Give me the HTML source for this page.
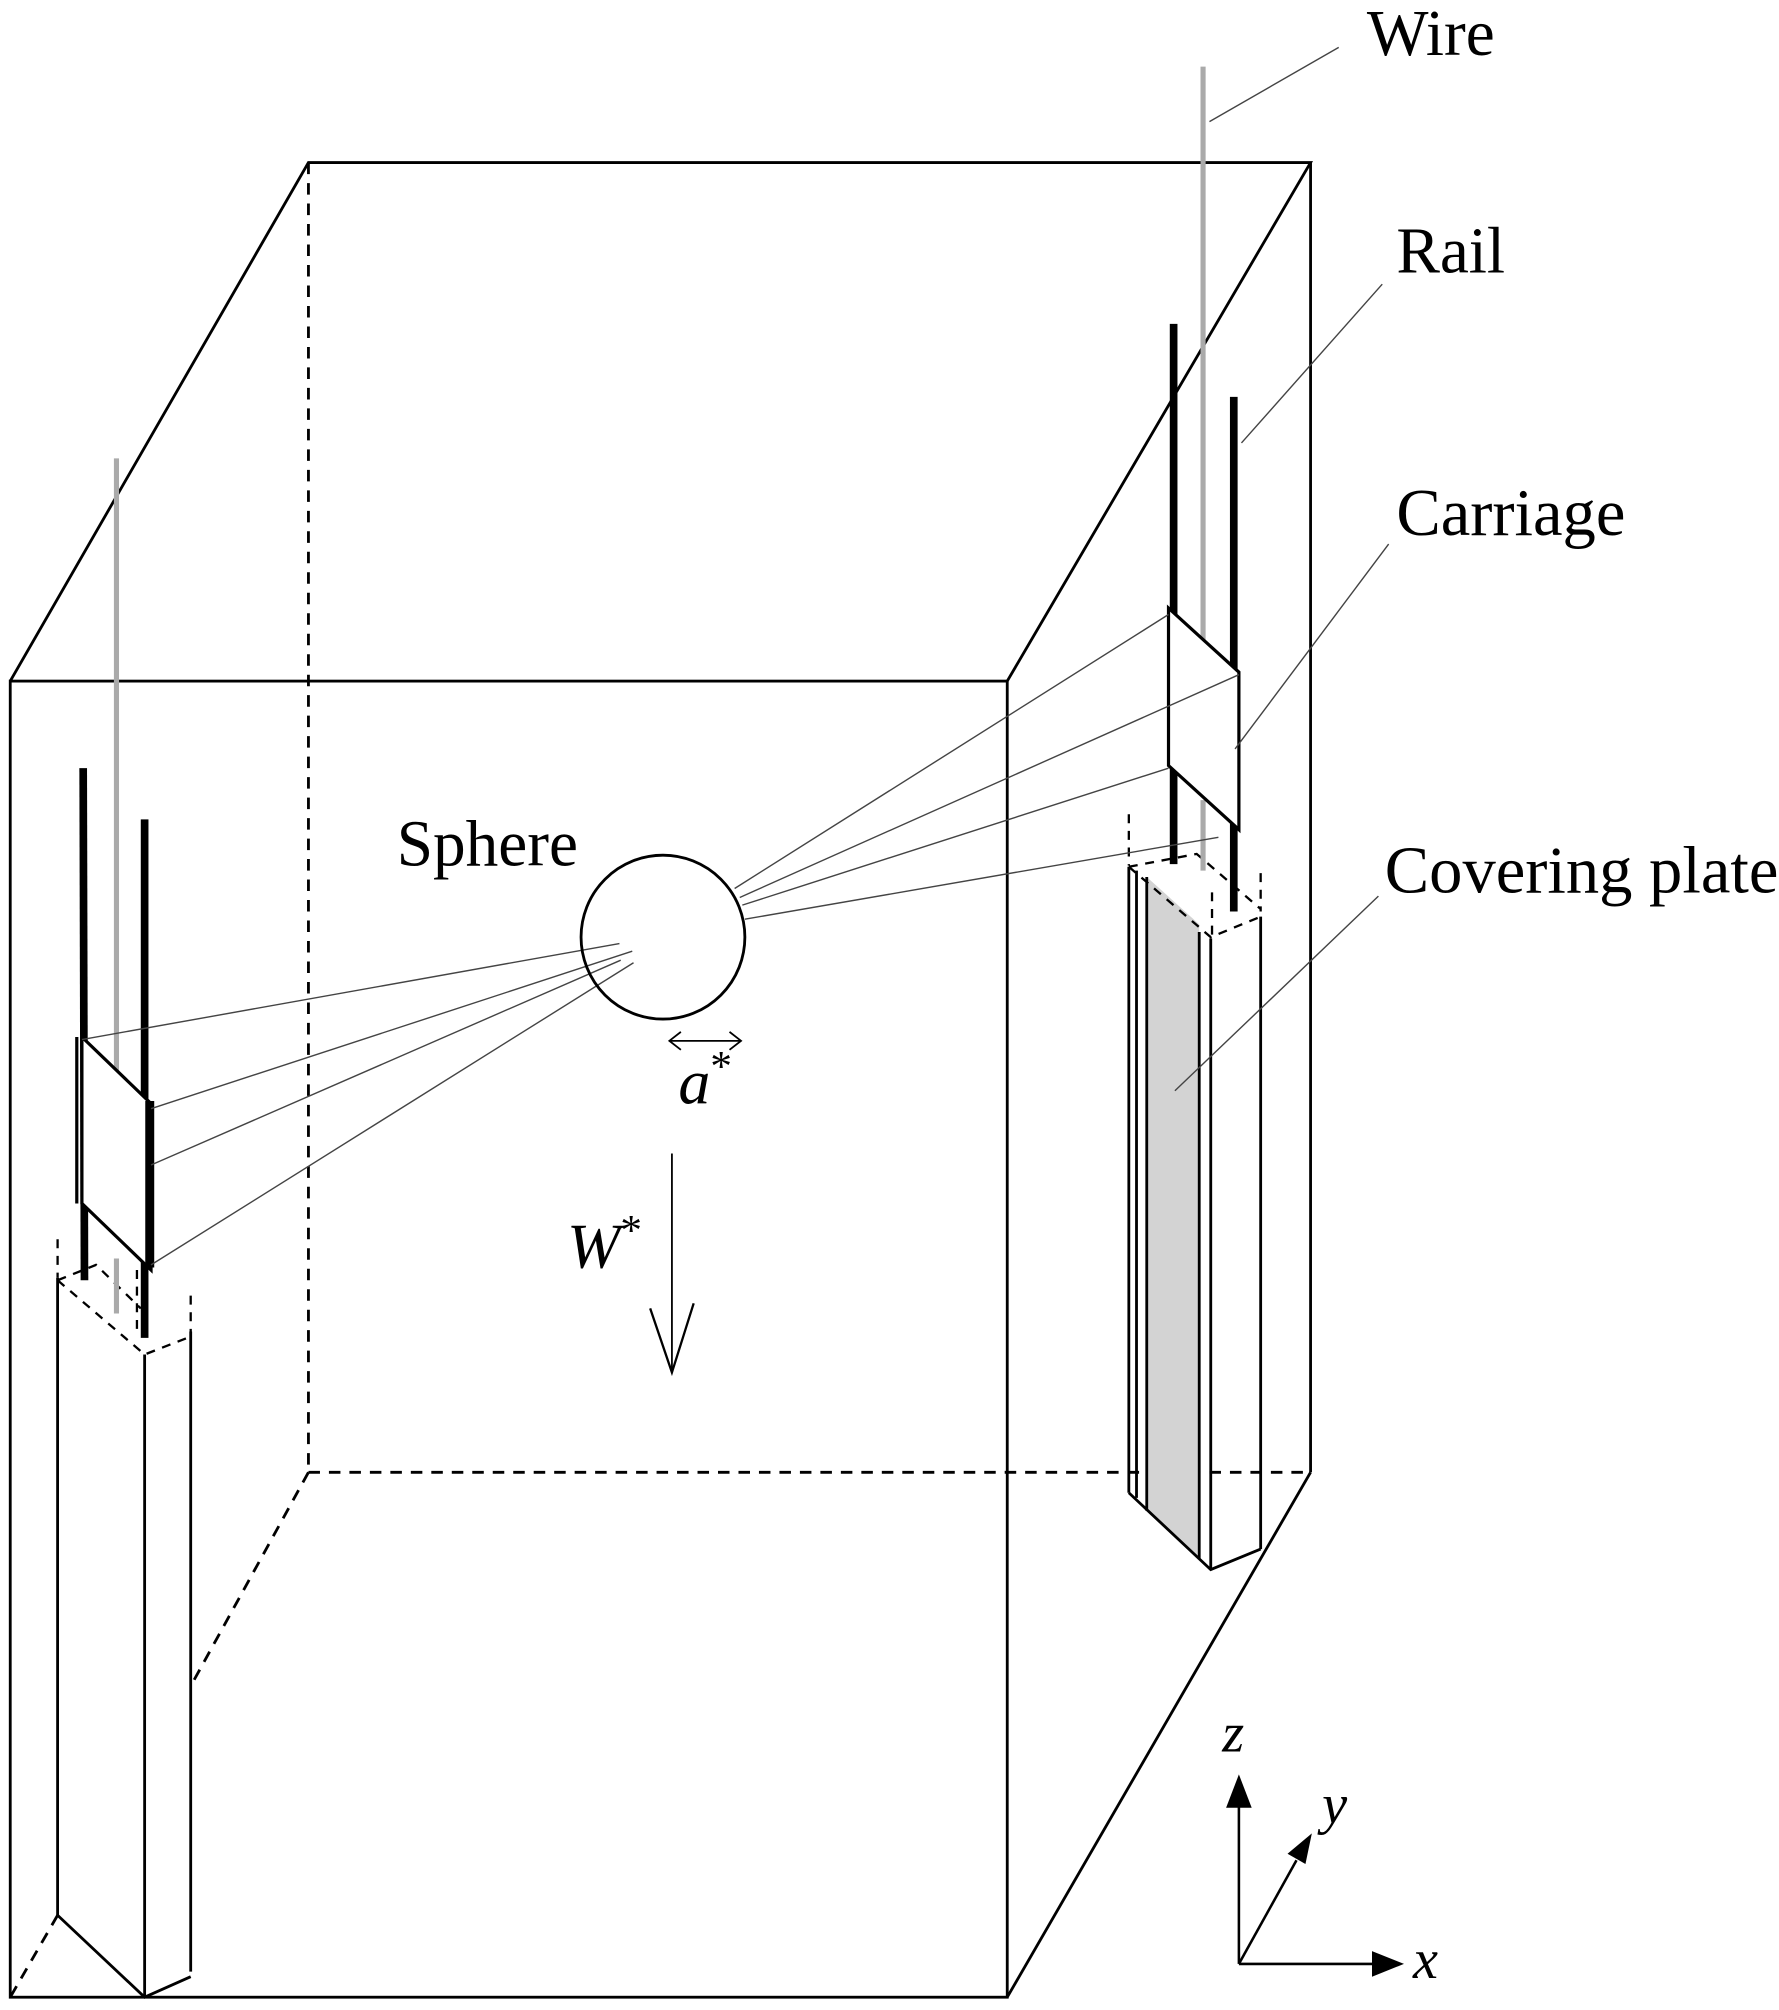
<!DOCTYPE html>
<html><head><meta charset="utf-8"><style>
html,body{margin:0;padding:0;background:#fff}
svg{display:block}
text{font-family:"Liberation Serif",serif;fill:#000}
</style></head><body>
<svg width="1779" height="2010" viewBox="0 0 1390 1570" preserveAspectRatio="none" xmlns="http://www.w3.org/2000/svg">
<g fill="none" stroke="#000" stroke-width="2.2">
<g stroke-dasharray="9,7">
<line x1="241" y1="127" x2="241" y2="1150"/>
<line x1="241" y1="1150" x2="1024" y2="1150"/>
<line x1="241" y1="1150" x2="149" y2="1317"/>
<line x1="45" y1="1496" x2="8" y2="1560"/>
</g>
<rect x="8" y="532" width="779" height="1028"/>
<polyline points="8,532 241,127 1024,127 787,532"/>
<line x1="1024" y1="127" x2="1024" y2="1150"/>
<line x1="1024" y1="1150" x2="787" y2="1560"/>
</g>

<g fill="none" stroke="#000" stroke-width="2.2">
<line x1="45" y1="998" x2="45" y2="1496"/>
<line x1="113" y1="1058" x2="113" y2="1560"/>
<line x1="149" y1="1040" x2="149" y2="1540"/>
<polyline points="45,1496 113,1560 149,1544"/>
<g stroke-dasharray="7,6" stroke-width="1.8">
<polyline points="45,1000 75,988 110,1022"/>
<polyline points="45,1000 113,1058 149,1044"/>
<line x1="45" y1="968" x2="45" y2="998"/>
<line x1="149" y1="1012" x2="149" y2="1042"/>
<line x1="107" y1="992" x2="107" y2="1040"/>
</g>
</g>
<line x1="91" y1="358" x2="91" y2="838" stroke="#aaa" stroke-width="4"/>
<line x1="91" y1="983" x2="91" y2="1026" stroke="#aaa" stroke-width="4"/>
<line x1="65" y1="600" x2="66" y2="1000" stroke="#000" stroke-width="6"/>
<line x1="113" y1="640" x2="113" y2="1045" stroke="#000" stroke-width="6"/>
<polygon points="64,810 118,862 118,992 64,940" fill="#fff" stroke="#000" stroke-width="2.5"/>
<line x1="60" y1="810" x2="60" y2="940" stroke="#000" stroke-width="2.5"/>
<line x1="117" y1="860" x2="117" y2="990" stroke="#000" stroke-width="7"/>

<polygon points="896,685 937,722 937,1218 896,1180" fill="#d3d3d3"/>
<g fill="none" stroke="#000" stroke-width="2.2">
<line x1="882" y1="677" x2="882" y2="1166"/>
<line x1="888" y1="680" x2="888" y2="1170"/>
<line x1="896" y1="685" x2="896" y2="1180"/>
<line x1="937" y1="728" x2="937" y2="1218"/>
<line x1="946" y1="733" x2="946" y2="1226"/>
<line x1="985" y1="716" x2="985" y2="1210"/>
<polyline points="882,1166 946,1226 985,1210"/>
<g stroke-dasharray="7,6" stroke-width="1.8">
<polyline points="882,677 935,667 985,710"/>
<polyline points="882,677 946,732 985,716"/>
<line x1="882" y1="636" x2="882" y2="676"/>
<line x1="985" y1="682" x2="985" y2="712"/>
<line x1="947" y1="697" x2="947" y2="732"/>
</g>
</g>
<line x1="940" y1="52" x2="940" y2="510" stroke="#aaa" stroke-width="4"/>
<line x1="940" y1="625" x2="940" y2="680" stroke="#aaa" stroke-width="4"/>
<line x1="917" y1="253" x2="917" y2="675" stroke="#000" stroke-width="6"/>
<line x1="964" y1="310" x2="964" y2="712" stroke="#000" stroke-width="6"/>
<polygon points="913,475 968,525 968,648 913,598" fill="#fff" stroke="#000" stroke-width="2.5"/>

<g stroke="#444" stroke-width="1.1" fill="none">
<line x1="484" y1="737" x2="64" y2="812"/>
<line x1="494" y1="743" x2="118" y2="866"/>
<line x1="485" y1="750" x2="118" y2="910"/>
<line x1="495" y1="752" x2="118" y2="988"/>
<line x1="574" y1="694" x2="913" y2="480"/>
<line x1="578" y1="701" x2="968" y2="527"/>
<line x1="580" y1="707" x2="913" y2="600"/>
<line x1="582" y1="718" x2="952" y2="654"/>
<line x1="945" y1="95" x2="1046" y2="37"/>
<line x1="970" y1="346" x2="1080" y2="222"/>
<line x1="965" y1="585" x2="1085" y2="425"/>
<line x1="918" y1="852" x2="1077" y2="700"/>
</g>
<circle cx="518" cy="732" r="64" fill="none" stroke="#000" stroke-width="2.2"/>
<g stroke="#000" stroke-width="1.4" fill="none">
<line x1="523" y1="813" x2="579" y2="813"/>
<polyline points="532,806 523,813 532,820"/>
<polyline points="570,806 579,813 570,820"/>
<line x1="525" y1="901" x2="525" y2="1072"/>
<polyline points="508,1022 525,1072 542,1018" stroke-width="1.8"/>
</g>

<g stroke="#000" stroke-width="2">
<line x1="968" y1="1534" x2="968" y2="1410"/>
<line x1="968" y1="1534" x2="1075" y2="1534"/>
<line x1="968" y1="1534" x2="1013" y2="1453"/>
</g>
<polygon points="968,1386 958,1412 978,1412" fill="#000"/>
<polygon points="1097,1534 1072,1524 1072,1544" fill="#000"/>
<polygon points="1025,1432 1006,1448 1020,1456" fill="#000"/>

<text x="1068" y="43" font-size="51">Wire</text>
<text x="1091" y="213" font-size="51">Rail</text>
<text x="1091" y="418" font-size="52">Carriage</text>
<text x="1082" y="697" font-size="52">Covering plate</text>
<text x="310" y="676" font-size="51">Sphere</text>
<text x="530" y="862" font-size="50" font-style="italic">a<tspan dy="-18" font-size="34" font-style="normal">*</tspan></text>
<text x="443" y="990" font-size="50" font-style="italic">W<tspan dy="-18" font-size="34" font-style="normal">*</tspan></text>
<text x="955" y="1368" font-size="44" font-style="italic">z</text>
<text x="1033" y="1424" font-size="44" font-style="italic">y</text>
<text x="1104" y="1545" font-size="44" font-style="italic">x</text>
</svg>
</body></html>
